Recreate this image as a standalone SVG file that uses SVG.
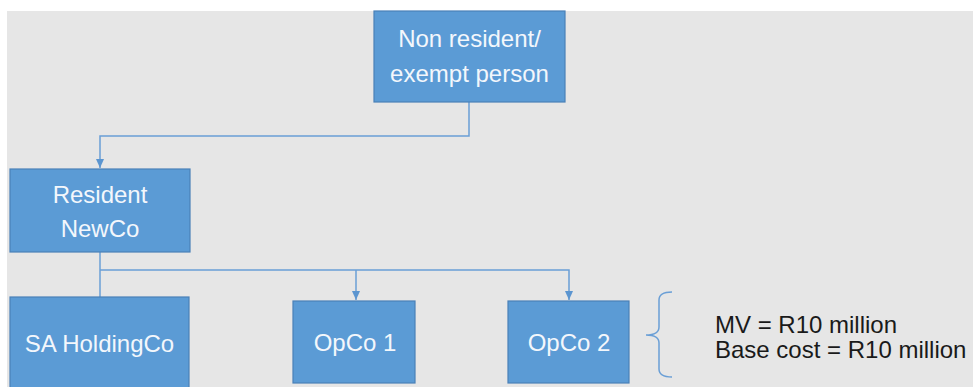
<svg xmlns="http://www.w3.org/2000/svg" width="973" height="387" viewBox="0 0 973 387">
<style>
.box{fill:#5b9bd5;stroke:#4a80b8;stroke-width:1.2}
.bt{font-family:"Liberation Sans",Arial,sans-serif;font-size:24px;fill:#f3f7fc;text-anchor:middle}
.note{font-family:"Liberation Sans",Arial,sans-serif;font-size:24px;fill:#1a1a1a}
.con{fill:none;stroke:#6a9fd6;stroke-width:1.5}
</style>
<defs>
<marker id="ah" markerWidth="10" markerHeight="8" refX="9" refY="4" orient="auto" markerUnits="userSpaceOnUse">
<path d="M0,0 L9,4 L0,8 Z" fill="#5b95d0"/>
</marker>
</defs>
<rect x="0" y="0" width="973" height="387" fill="#ffffff"/>
<rect x="7" y="11" width="966" height="376" fill="#e6e6e6"/>
<g id="connectors">
<path class="con" d="M469,102 V136 H100 V168" marker-end="url(#ah)"/>
<path class="con" d="M100,252 V297"/>
<path class="con" d="M100,270 H569 V300" marker-end="url(#ah)"/>
<path class="con" d="M356,270 V300" marker-end="url(#ah)"/>
</g>
<g id="node-nonresident">
<rect class="box" x="374" y="11" width="191" height="91"/>
<text class="bt" x="469.5" y="47">Non resident/</text>
<text class="bt" x="469.5" y="82">exempt person</text>
</g>
<g id="node-resident">
<rect class="box" x="10" y="169" width="180" height="83"/>
<text class="bt" x="100" y="203">Resident</text>
<text class="bt" x="100" y="237">NewCo</text>
</g>
<g id="node-saholding">
<rect class="box" x="10" y="297" width="179" height="95"/>
<text class="bt" x="99.5" y="352">SA HoldingCo</text>
</g>
<g id="node-opco1">
<rect class="box" x="293" y="301" width="122" height="82"/>
<text class="bt" x="355" y="351">OpCo 1</text>
</g>
<g id="node-opco2">
<rect class="box" x="508" y="301" width="121" height="82"/>
<text class="bt" x="569" y="351">OpCo 2</text>
</g>
<g id="note">
<path class="con" d="M672,292 Q659,292 659,300 L659,327 Q659,335 646,335 Q659,335 659,343 L659,369 Q659,377 672,377"/>
<text class="note" x="715" y="333">MV = R10 million</text>
<text class="note" x="715" y="358">Base cost = R10 million</text>
</g>
</svg>
